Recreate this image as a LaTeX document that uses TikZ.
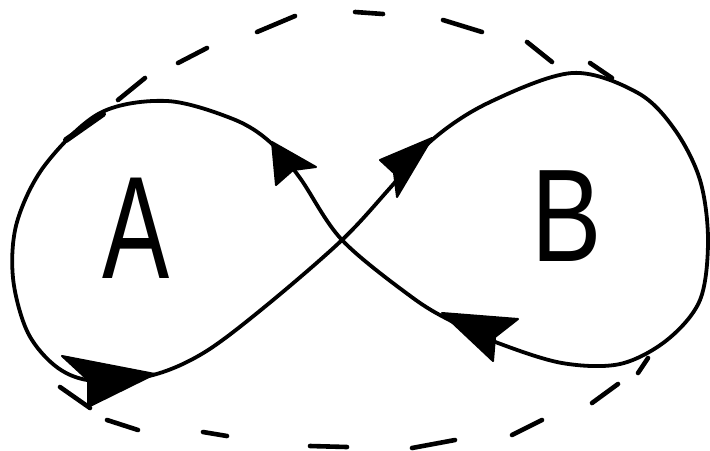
\documentclass[tikz,border=0pt]{standalone}
\usepackage{graphicx}
\usepackage{fontspec}
\setmainfont{Liberation Sans}
\begin{document}
\begin{tikzpicture}[x=0.5pt,y=-0.5pt, line cap=round, line join=round,
  loopline/.style={line width=1.9pt},
  dashseg/.style={line width=2.3pt},
  ahead/.style={fill=black, draw=black, line width=1pt},
  letter/.style={inner sep=0pt}]
\useasboundingbox[fill=white] (0,0) rectangle (710,450);

% figure-eight path
\draw[loopline] plot[smooth cycle, tension=0.55] coordinates {
  (342,240) (300,178) (270,142) (233,119) (167,101) (100,113) (45,165)
  (17,222) (13,278) (28,333) (58,368) (95,381) (153,375) (205,352) (267,305)
  (342,240) (390,188) (432,140) (488,103) (572,73) (638,93) (675,130)
  (700,180) (708,240) (700,300) (667,340) (620,364) (562,363) (498,343)
  (455,323) (413,298)};

% arrowheads
\path[ahead] (272,142) -- (276,185) -- (293,170) -- (316,167) -- cycle;
\path[ahead] (432,138) -- (380,160) -- (394,173) -- (397,197) -- cycle;
\path[ahead] (442,313) -- (518,319) -- (495,337) -- (493,361) -- cycle;
\path[ahead] (155,374) -- (62,356) -- (88,380) -- (88,407) -- cycle;

% dashed surrounding curve
\draw[dashseg] (60,387) -- (90,408);
\draw[dashseg] (107,420) -- (138,430);
\draw[dashseg] (203,432) -- (227,436);
\draw[dashseg] (310,446) -- (347,447);
\draw[dashseg] (412,448) -- (455,440);
\draw[dashseg] (512,435) -- (542,420);
\draw[dashseg] (592,403) -- (618,384);
\draw[dashseg] (638,373) -- (648,358);
\draw[dashseg] (590,63) -- (612,78);
\draw[dashseg] (527,42) -- (552,62);
\draw[dashseg] (443,20) -- (482,32);
\draw[dashseg] (355,12) -- (383,14);
\draw[dashseg] (257,32) -- (295,16);
\draw[dashseg] (178,63) -- (207,48);
\draw[dashseg] (118,100) -- (145,78);
\draw[line width=3pt] (66,140) -- (103,114);

% labels
\node[letter, font=\fontsize{73}{80}\selectfont] (A) at (136,228) {\scalebox{0.69}[1]{A}};
\node[letter, font=\fontsize{66}{72}\selectfont] (B) at (567,216) {\scalebox{0.8}[1]{B}};
\end{tikzpicture}
\end{document}
